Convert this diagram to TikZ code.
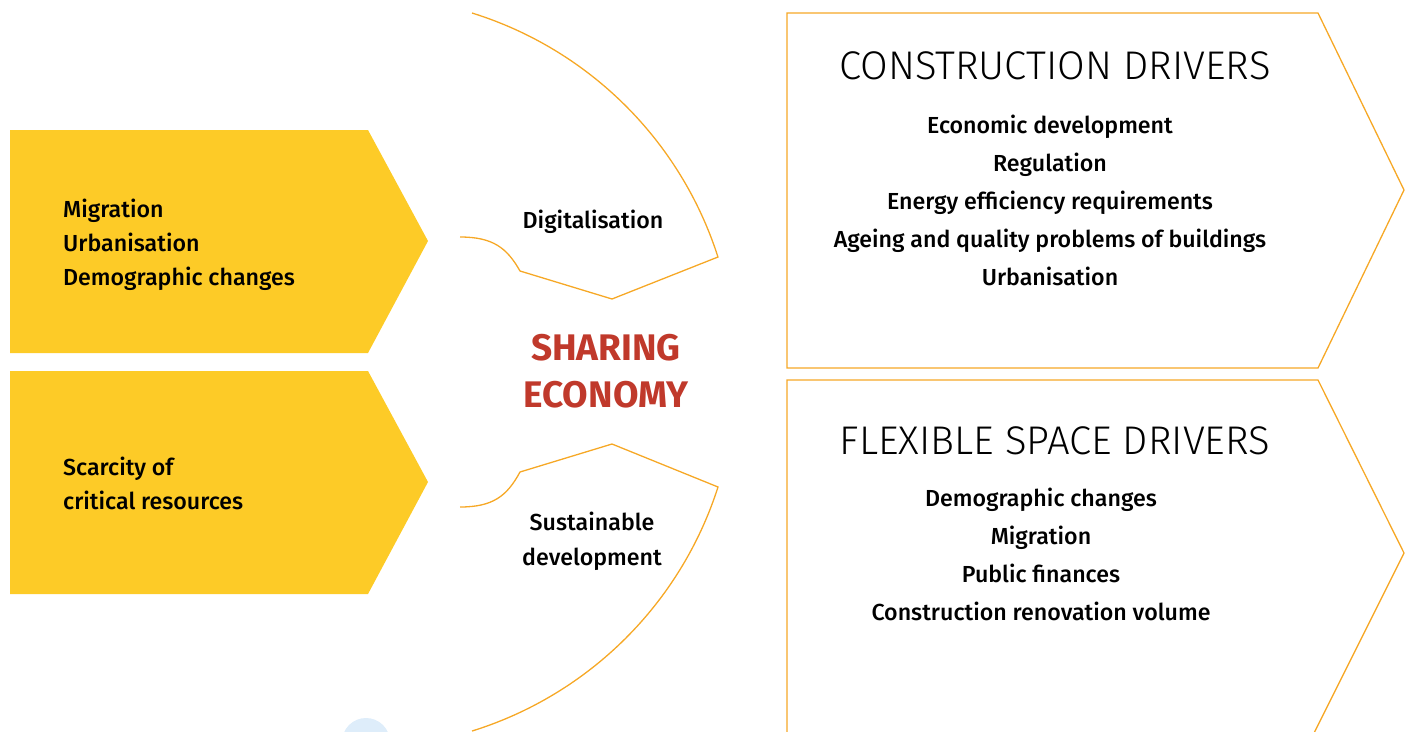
\documentclass[tikz,border=0pt]{standalone}
\usepackage{fontspec}
\setmainfont{Fira Sans}
\newfontfamily\lightfont{Fira Sans Light}
\newfontfamily\mediumfont{Fira Sans Medium}
\usetikzlibrary{positioning,calc}

\definecolor{pushyellow}{RGB}{253,203,39}
\definecolor{edgeorange}{RGB}{246,168,38}
\definecolor{hubred}{RGB}{192,57,43}
\definecolor{spotblue}{RGB}{222,237,250}

\begin{document}
\begin{tikzpicture}[
    x=1pt, y=-1pt,
    push/.style={fill=pushyellow},
    frame/.style={draw=edgeorange, line width=1.3pt, line join=miter},
    item/.style={font=\mediumfont\fontsize{23.2}{26}\selectfont, inner sep=0pt, anchor=base},
    leftitem/.style={item, anchor=base west},
    title/.style={font=\lightfont\fontsize{40}{44}\selectfont, inner sep=0pt, anchor=base},
    hub/.style={font=\bfseries\fontsize{37}{42}\selectfont, text=hubred, inner sep=0pt, anchor=base}
]
    \useasboundingbox (0,0) rectangle (1405,731);
    \clip (0,0) rectangle (1405,731);

    % left side
    \fill[push] (10,130) -- (368,130) -- (428,241) -- (368,353) -- (10,353) -- cycle;
    \fill[push] (10,371) -- (368,371) -- (428,482) -- (368,594) -- (10,594) -- cycle;
    \foreach \y/\txt [count=\i] in {217/Migration, 251/Urbanisation, 285/Demographic changes} {
        \node[leftitem] (trend\i) at (63,\y) {\txt};
    }
    \node[leftitem] (scarce1) at (63,475) {Scarcity of};
    \node[leftitem] (scarce2) at (63,509) {critical resources};

    % middle
    \fill[spotblue] (366,742) circle[radius=24];
    \draw[frame] (472,13) arc[start angle=-72.7, end angle=-17.75, radius=375.5]
        -- (612,299) -- (520,271) .. controls (507,248) and (493,237) .. (460,237);
    \draw[frame] (460,507) .. controls (493,507) and (507,496) .. (520,472)
        -- (612,444) -- (718,487) arc[start angle=17.75, end angle=72.7, radius=375.5];
    \node[item] (digital) at (593,228) {Digitalisation};
    \node[hub] (share1) at (606,360) {SHARING};
    \node[hub] (share2) at (606,407) {ECONOMY};
    \node[item] (sustain1) at (592,530) {Sustainable};
    \node[item] (sustain2) at (592,565) {development};

    % right side
    \draw[frame] (787,13) -- (1318,13) -- (1404,190) -- (1318,368) -- (787,368) -- cycle;
    \draw[frame] (787,745) -- (787,380) -- (1318,380) -- (1404,553) -- (1308,745);
    \node[title] (buildhead) at (1055,79) {CONSTRUCTION DRIVERS};
    \foreach \y/\txt [count=\i] in {133/Economic development, 171/Regulation, 209/Energy efficiency requirements, 247/Ageing and quality problems of buildings, 285/Urbanisation} {
        \node[item] (build\i) at (1050,\y) {\txt};
    }
    \node[title] (flexhead) at (1055,454) {FLEXIBLE SPACE DRIVERS};
    \foreach \y/\txt [count=\i] in {506/Demographic changes, 544/Migration, 582/Public finances, 620/Construction renovation volume} {
        \node[item] (flex\i) at (1041,\y) {\txt};
    }
\end{tikzpicture}
\end{document}
